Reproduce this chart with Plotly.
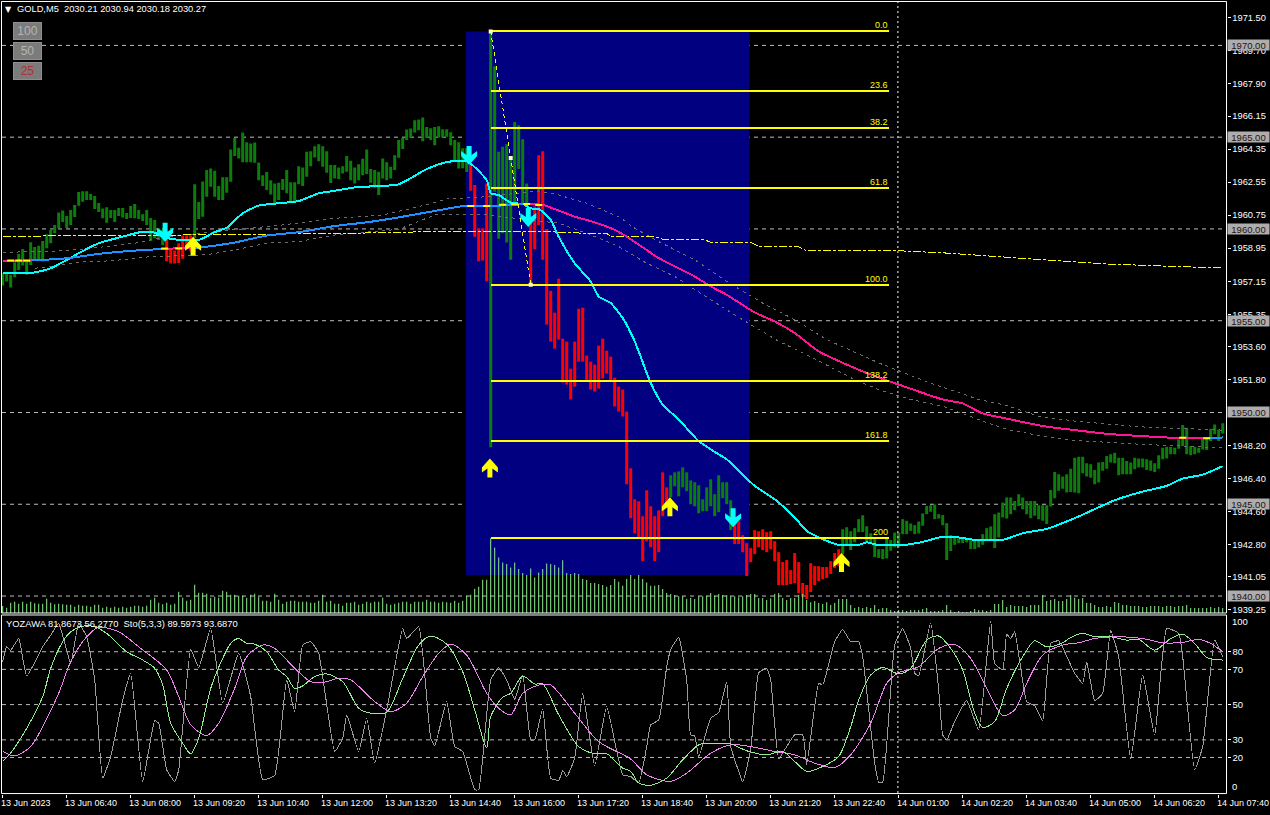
import plotly.graph_objects as go

bar_high = [1957.59,1957.59,1957.50,1958.19,1958.64,1958.91,1958.22,1959.27,1959.01,1959.09,1959.35,1959.71,1959.94,1960.22,1960.89,1961.00,1960.71,1961.03,1961.30,1962.01,
1962.05,1962.06,1961.90,1961.79,1961.41,1961.12,1961.18,1961.03,1961.03,1961.14,1961.14,1960.87,1961.25,1961.36,1961.03,1960.80,1961.03,1960.60,1960.49,1960.04,
1959.94,1959.58,1958.86,1958.82,1959.22,1959.64,1959.64,1959.64,1962.44,1961.47,1962.59,1963.21,1963.30,1963.17,1962.34,1962.81,1962.81,1964.33,1964.96,1964.42,
1965.25,1964.73,1964.65,1964.71,1963.62,1962.93,1963.10,1962.66,1962.48,1962.52,1962.72,1963.21,1962.55,1962.55,1963.42,1963.35,1964.20,1964.24,1964.51,1964.62,
1964.51,1964.24,1963.48,1963.48,1963.35,1963.42,1963.97,1963.71,1963.35,1963.53,1963.82,1964.33,1963.26,1963.21,1963.12,1963.84,1963.64,1963.39,1964.02,1964.84,
1964.96,1965.42,1965.47,1965.92,1965.96,1966.07,1965.56,1965.49,1965.56,1965.60,1965.43,1965.43,1965.27,1964.84,1964.73,1964.40,1964.40,1963.48,1962.39,1960.04,
1960.04,1962.48,1970.82,1968.86,1964.20,1964.48,1964.62,1963.93,1965.83,1965.65,1964.89,1962.48,1960.49,1961.22,1964.02,1964.24,1960.00,1956.63,1955.44,1957.29,
1954.02,1953.86,1952.39,1953.86,1955.65,1955.71,1953.10,1952.77,1952.61,1953.64,1954.02,1953.37,1953.04,1951.90,1951.41,1951.25,1950.05,1946.96,1945.27,1945.16,
1944.35,1945.76,1944.89,1944.35,1944.67,1946.74,1945.92,1946.58,1946.74,1946.79,1947.01,1946.74,1946.30,1946.20,1946.03,1945.27,1945.92,1946.36,1945.55,1946.58,
1946.20,1946.20,1945.22,1944.02,1944.08,1943.32,1942.88,1942.61,1943.59,1943.53,1943.64,1943.48,1943.53,1942.99,1942.39,1941.85,1941.96,1941.41,1942.34,1941.85,
1940.71,1940.60,1941.79,1941.63,1941.63,1941.58,1941.58,1941.90,1942.34,1942.55,1943.64,1943.75,1943.53,1943.70,1944.19,1944.40,1943.80,1943.42,1943.10,1942.55,
1942.56,1943.14,1943.05,1943.46,1943.46,1944.19,1944.10,1943.95,1943.86,1944.06,1944.50,1944.91,1944.95,1944.99,1944.46,1944.41,1943.97,1943.32,1943.19,1943.14,
1943.10,1943.14,1943.10,1943.07,1943.10,1943.37,1943.70,1943.79,1944.46,1944.55,1945.09,1945.37,1945.37,1945.18,1945.55,1945.37,1945.18,1945.18,1945.18,1944.95,
1944.95,1944.95,1945.78,1946.76,1946.63,1946.51,1946.63,1946.94,1947.54,1947.59,1947.59,1947.23,1947.18,1946.87,1947.27,1947.30,1947.63,1947.72,1947.81,1947.54,
1947.54,1947.36,1947.27,1947.54,1947.49,1947.49,1947.45,1947.39,1947.23,1947.67,1948.08,1948.14,1948.12,1948.08,1948.54,1949.32,1949.17,1948.17,1948.14,1948.08,
1948.57,1948.63,1949.12,1949.35,1949.08,1949.41]

bar_low = [1956.92,1957.14,1956.81,1957.37,1957.77,1958.01,1957.50,1958.04,1958.28,1958.31,1958.22,1958.95,1959.22,1959.76,1960.05,1960.38,1960.05,1960.22,1960.65,1961.27,
1961.48,1961.58,1961.58,1961.09,1960.92,1960.58,1960.34,1960.60,1960.38,1960.71,1960.63,1960.54,1960.60,1960.58,1960.54,1960.43,1960.22,1959.35,1959.49,1959.40,
1959.13,1958.24,1958.12,1958.12,1958.15,1958.37,1958.95,1958.77,1959.49,1960.54,1960.67,1961.76,1962.30,1961.76,1961.58,1961.58,1961.97,1962.57,1963.97,1963.84,
1963.64,1963.64,1963.64,1963.60,1962.66,1962.34,1962.12,1961.88,1961.39,1961.58,1962.12,1961.94,1961.48,1961.48,1962.44,1962.34,1962.84,1963.42,1963.89,1963.69,
1963.39,1963.06,1962.50,1962.75,1962.72,1963.02,1963.12,1962.66,1962.48,1962.66,1962.92,1962.99,1962.52,1962.26,1961.85,1962.75,1962.66,1962.75,1963.21,1963.88,
1964.35,1964.84,1964.98,1965.25,1965.38,1964.78,1964.96,1964.84,1964.56,1964.98,1964.98,1965.02,1964.56,1963.71,1963.30,1963.31,1963.10,1962.08,1959.58,1958.23,
1958.28,1957.14,1948.10,1962.03,1959.46,1959.77,1959.26,1958.32,1961.31,1963.26,1961.40,1961.40,1956.96,1958.90,1960.22,1958.32,1954.79,1953.86,1953.48,1953.97,
1951.63,1951.52,1950.71,1951.41,1952.77,1952.77,1951.69,1951.25,1951.14,1951.30,1951.85,1952.12,1951.69,1950.33,1950.05,1949.78,1946.09,1944.24,1943.42,1943.21,
1941.90,1942.99,1942.66,1941.90,1942.39,1944.35,1944.84,1945.38,1945.98,1945.43,1945.92,1945.71,1945.00,1944.89,1944.51,1944.62,1944.62,1944.89,1944.35,1944.57,
1945.33,1945.00,1943.59,1942.83,1942.83,1942.39,1941.09,1941.85,1942.28,1942.66,1942.50,1942.39,1942.55,1941.90,1940.60,1940.60,1940.60,1940.65,1940.71,1940.16,
1939.95,1939.84,1940.22,1940.60,1940.82,1940.92,1940.98,1941.20,1941.52,1941.63,1942.28,1942.77,1942.50,1942.93,1943.48,1943.48,1942.93,1942.83,1942.12,1942.07,
1942.01,1942.05,1942.47,1942.65,1942.65,1943.37,1943.37,1943.55,1943.37,1943.41,1943.83,1944.46,1944.59,1944.19,1944.22,1943.86,1941.96,1942.45,1942.79,1942.88,
1942.88,1942.92,1942.56,1942.56,1942.65,1942.79,1943.01,1943.10,1942.61,1943.19,1944.28,1944.22,1944.46,1944.68,1944.91,1944.73,1944.46,1944.24,1944.37,1944.19,
1944.10,1943.92,1944.88,1945.33,1945.73,1945.85,1945.64,1945.67,1945.64,1945.60,1946.69,1946.51,1946.45,1946.09,1946.18,1946.82,1946.94,1947.27,1947.23,1946.58,
1946.63,1946.63,1946.63,1946.91,1947.00,1947.00,1946.87,1946.82,1946.76,1946.94,1947.45,1947.49,1947.72,1947.72,1948.03,1948.17,1947.72,1947.67,1947.72,1947.81,
1947.99,1947.96,1948.45,1948.81,1948.45,1948.86]

falling_spans = [(41, 47), (117, 121), (132, 166), (183, 209)]

tick_volume = [21,16,31,34,28,34,28,34,29,28,28,43,31,26,28,26,25,25,19,25,22,22,19,25,25,16,19,16,19,16,19,16,19,22,22,19,22,40,46,31,
26,31,25,28,64,46,37,40,85,61,61,58,46,49,46,67,64,55,55,52,52,46,55,58,49,37,37,34,58,40,28,34,37,37,34,34,34,31,31,37,
55,34,37,28,28,22,31,31,34,25,28,34,31,34,34,46,28,25,28,31,34,34,28,34,34,34,40,34,34,31,34,32,31,37,31,37,52,55,73,79,
100,100,225,197,167,152,147,137,152,132,120,114,134,107,122,132,149,147,144,137,159,120,117,120,117,102,99,90,90,87,84,79,84,102,94,82,
102,114,102,114,102,92,82,82,84,72,60,57,54,50,50,42,45,42,50,50,52,60,52,57,54,54,50,50,47,50,54,57,57,45,45,39,44,57,60,45,
39,45,45,54,57,39,32,36,30,27,32,24,30,42,42,42,24,15,18,15,18,15,24,12,15,15,9,6,9,9,6,9,9,9,12,15,6,6,6,9,
24,9,3,6,3,3,6,12,9,9,6,9,27,27,39,18,24,21,21,21,18,24,24,24,54,36,39,42,36,36,42,54,46,42,45,30,30,24,18,18,
21,18,33,30,24,24,21,21,21,18,18,21,21,21,18,21,21,18,21,21,24,15,15,15,15,15,18,15,18,15]

cyan_idx = [0,8,12,16,19,24,30,35,38,40,44,49,53,56,60,64,68,74,79,83,88,94,99,106,111,116,121,122,124,127,130,132,134,137,139,143,147,149,152,155,158,162,165,169,174,179,181,188,193,198,201,205,209,214,216,219,225,230,235,239,243,250,255,261,268,278,285,291,295,300,305]
cyan_val = [1957.59,1957.63,1957.86,1958.31,1958.68,1959.22,1959.58,1959.85,1959.80,1959.58,1959.40,1959.40,1959.82,1960.07,1960.85,1961.27,1961.38,1961.52,1961.94,1962.08,1962.26,1962.34,1962.43,1963.26,1963.64,1963.70,1962.66,1961.94,1961.85,1961.43,1961.36,1961.12,1961.09,1960.49,1959.58,1958.13,1957.14,1956.32,1955.96,1955.15,1953.88,1951.61,1950.43,1949.62,1948.44,1947.72,1947.45,1946.00,1945.27,1944.28,1943.55,1943.10,1942.79,1942.79,1942.92,1942.77,1942.77,1942.95,1943.23,1943.19,1943.06,1943.06,1943.42,1943.66,1944.24,1945.22,1945.69,1946.00,1946.40,1946.61,1947.08]

ma_idx = [0,7,16,24,33,40,41,48,53,58,66,74,83,91,99,108,116,122,131,135,139,143,148,153,156,160,164,169,173,177,181,188,193,198,204,211,217,235,240,245,252,260,268,276,285,293,301,305]
ma_val = [1958.28,1958.28,1958.40,1958.64,1958.82,1958.91,1958.93,1958.95,1959.09,1959.26,1959.64,1959.82,1960.16,1960.36,1960.63,1960.98,1961.27,1961.25,1961.36,1961.31,1961.00,1960.67,1960.36,1959.95,1959.58,1959.00,1958.41,1957.86,1957.41,1956.87,1956.41,1955.45,1954.96,1954.33,1953.33,1952.61,1952.07,1950.71,1950.49,1949.95,1949.62,1949.26,1949.04,1948.84,1948.71,1948.62,1948.59,1948.64]
ma_pink_spans = [(0, 7), (41, 48), (131, 301)]
ma_mark_idx = [2,4,6,40.5,44,117,121,125,128,131,134,295,301]
ma_mark_val = [1958.28,1958.28,1958.28,1958.93,1958.94,1961.25,1961.25,1961.32,1961.34,1961.36,1961.31,1948.62,1948.59]

band_up_idx = [0,11,20,33,41,58,70,83,95,104,111,119,134,139,146,154,158,164,173,181,190,198,206,219,232,244,251,259,268,284,305]
band_up_val = [1958.73,1958.77,1958.89,1959.22,1959.58,1959.94,1960.22,1960.58,1960.76,1961.21,1961.63,1961.72,1962.07,1961.85,1961.40,1960.67,1960.04,1959.31,1958.32,1957.14,1955.96,1955.05,1953.97,1952.70,1951.60,1950.71,1950.38,1949.80,1949.53,1949.22,1949.04]
band_lo_idx = [8,12,20,27,37,51,58,66,74,83,99,108,119,131,139,146,154,161,168,177,185,194,201,213,219,227,235,245,251,260,268,285,305]
band_lo_val = [1957.86,1957.95,1958.22,1958.26,1958.49,1958.59,1958.86,1959.22,1959.31,1959.67,1959.98,1960.76,1960.81,1960.49,1960.31,1959.77,1959.04,1958.13,1957.41,1956.14,1955.05,1953.88,1953.15,1951.79,1951.25,1950.71,1950.34,1949.53,1949.08,1948.71,1948.48,1948.26,1948.08]

yellow_idx = [0,8,25,58,75,91,104,120,134,145,151,152,163,165,175,177,187,189,199,201,225,235,259,275,295,305]
yellow_val = [1959.60,1959.60,1959.64,1959.69,1959.73,1959.78,1959.84,1959.87,1959.87,1959.77,1959.77,1959.58,1959.58,1959.44,1959.44,1959.28,1959.28,1959.04,1959.02,1958.80,1958.80,1958.70,1958.32,1958.10,1957.94,1957.88]

zigzag_idx = [122, 127, 132]
zigzag_val = [1970.76, 1963.86, 1956.96]

fib_labels = ["0.0", "23.6", "38.2", "61.8", "100.0", "138.2", "161.8", "200"]
fib_levels = [1970.76, 1967.50, 1965.49, 1962.23, 1956.96, 1951.69, 1948.43, 1943.16]
fib_start = 122
fib_end = 221.6

zone_start, zone_end = 115.8, 186.7
zone_top, zone_bottom = 1970.76, 1941.14

arrow_up_idx = [47.6, 121.8, 166.8, 209.7]
arrow_up_val = [1959.57, 1947.50, 1945.38, 1942.34]
arrow_dn_idx = [40.6, 116.6, 131.4, 182.6]
arrow_dn_val = [1959.30, 1963.48, 1960.11, 1943.75]

round_levels = [1970, 1965, 1960, 1955, 1950, 1945, 1940]
price_ticks = [1971.50,1969.70,1967.90,1966.15,1964.35,1962.55,1960.75,1958.95,1957.15,1955.35,1953.60,1951.80,1950.00,1948.20,1946.40,1944.60,1942.80,1941.05,1939.25]
osc_levels = [80, 70, 50, 30, 20]

osc_idx = [0,1,2,4,6,10,12,14,17,19,21,23,25,27,30,32,35,38,39,41,43,44,47,49,52,55,59,62,65,68,71,73,75,77,79,83,85,86,89,91,93,96,100,101,104,107,108,111,113,115,118,119,122,124,126,128,130,132,133,135,137,139,140,141,143,145,148,151,155,157,159,161,162,164,166,167,169,171,172,173,174,177,179,181,182,184,185,187,189,191,192,194,196,198,200,201,204,205,208,210,212,214,215,218,219,220,223,225,227,228,229,232,234,235,236,238,241,244,247,248,250,251,252,253,256,258,260,262,264,268,270,271,273,275,277,279,282,285,288,291,294,295,298,300,301,303,305]
osc_val = [74.3,82.8,80.9,87.5,66.2,82.8,89.4,96.0,73.4,96.0,88.5,64.0,8.3,20.6,52.6,67.7,6.4,40.9,39.4,13.0,6.4,13.0,81.3,71.1,93.2,50.8,79.1,54.5,7.4,9.8,64.0,46.0,83.8,85.7,79.1,23.4,30.9,44.2,23.4,42.3,16.8,47.0,93.2,87.5,94.2,30.9,26.6,51.7,26.2,23.4,1.7,1.7,64.0,70.9,64.0,53.0,66.8,30.0,30.0,47.5,8.3,7.0,12.6,9.2,19.6,56.4,15.3,48.9,10.2,9.2,5.5,26.2,38.5,41.3,71.5,81.3,88.1,64.0,32.8,32.3,20.2,42.3,45.5,63.0,26.2,12.1,6.0,24.3,68.1,70.6,64.0,19.2,26.2,32.8,32.8,15.9,62.1,61.1,85.7,92.6,85.7,85.7,77.2,16.8,6.0,6.0,83.8,93.2,81.9,67.7,66.4,96.4,58.3,32.8,30.0,40.4,52.3,35.7,97.5,73.4,69.6,90.0,87.5,91.3,51.7,49.4,40.9,84.7,86.2,67.7,62.1,74.3,52.3,56.4,91.9,77.2,19.2,66.8,32.8,93.2,90.4,77.2,13.0,26.2,47.0,86.6,77.2]

sto_main_idx = [0,2,6,10,12,15,17,20,23,26,31,35,38,40,42,45,47,49,52,55,57,59,61,63,66,69,71,73,75,78,81,85,89,92,96,100,104,107,111,115,118,121,122,125,127,130,133,135,139,144,148,151,155,157,159,162,166,170,174,176,179,182,186,191,195,198,201,205,209,212,214,217,220,224,227,231,234,237,240,243,245,248,251,255,258,261,265,267,270,273,277,281,284,288,292,295,298,301,305]
sto_main_val = [17.7,22.5,36.6,54.5,70.6,85.7,91.3,94.5,94.2,90.4,80.0,75.3,70.6,61.1,39.4,28.1,22.1,30.9,59.2,76.2,84.7,87.5,84.7,84.3,80.0,69.6,65.9,59.2,60.6,65.9,67.4,63.0,47.9,45.1,45.7,64.9,83.8,88.9,84.3,68.7,47.0,25.3,43.2,54.2,56.4,66.2,61.7,61.7,44.2,26.2,22.1,22.1,14.0,12.1,5.5,4.2,8.3,18.7,27.2,28.1,27.7,27.7,23.8,21.5,23.4,17.7,12.1,14.9,20.6,37.5,52.6,66.8,71.1,67.4,70.6,86.6,88.9,81.9,69.6,45.1,37.0,40.4,59.2,77.2,86.2,82.8,85.1,88.1,90.4,88.5,88.5,86.6,87.0,80.9,87.5,90.0,84.7,76.8,75.3]

sto_sig_idx = [0,3,7,10,14,17,21,24,29,34,41,44,47,51,54,58,61,65,68,73,77,80,84,87,93,97,101,105,109,112,116,121,124,127,130,134,137,143,149,157,161,167,171,177,182,187,193,198,203,208,212,217,221,224,229,234,238,242,246,250,253,256,260,265,269,273,279,285,290,295,299,302,305]
sto_sig_val = [23.4,20.9,26.2,37.5,56.4,74.3,88.5,93.8,91.3,82.8,69.6,54.5,38.5,32.5,39.4,59.2,77.2,83.8,81.9,70.6,63.0,62.5,64.9,64.0,51.7,46.0,50.8,65.9,79.1,84.3,78.1,56.4,47.9,44.2,56.4,61.1,61.1,45.1,29.0,19.1,10.2,6.4,11.1,22.4,27.2,26.2,23.4,21.5,16.8,14.3,21.5,39.4,62.1,68.1,71.5,81.9,84.2,76.2,59.2,43.8,47.0,62.1,78.1,83.8,85.1,87.5,88.5,87.5,85.1,85.3,87.0,84.7,80.0]

time_idx = list(range(0, 305, 16))
time_labels = ["13 Jun 2023","13 Jun 06:40","13 Jun 08:00","13 Jun 09:20","13 Jun 10:40","13 Jun 12:00","13 Jun 13:20","13 Jun 14:40","13 Jun 16:00","13 Jun 17:20",
               "13 Jun 18:40","13 Jun 20:00","13 Jun 21:20","13 Jun 22:40","14 Jun 01:00","14 Jun 02:20","14 Jun 03:40","14 Jun 05:00","14 Jun 06:20","14 Jun 07:40"]
crosshair_idx = 223.8

header_text = "GOLD,M5  2030.21 2030.94 2030.18 2030.27"
osc_text = "YOZAWA 81.8673 56.2770  Sto(5,3,3) 89.5973 93.6870"
button_labels = ["100", "50", "25"]

W, H = 1270, 815
FONT = "Liberation Sans"
TXT = "#ffffff"
GRID = "#bdbdbd"
GRID_DASH = "4px,4px"
xp = lambda px: px / W
yp = lambda py: 1 - py / H

bar_idx = list(range(len(bar_high)))
is_red = lambda i: any(a <= i <= b for a, b in falling_spans)
bar_colors = ["#ff0000" if is_red(i) else "#0b7d0b" for i in bar_idx]
span = [h - l for h, l in zip(bar_high, bar_low)]

fig = go.Figure()
fig.add_bar(x=bar_idx, y=span, base=bar_low, width=0.75, marker=dict(color=bar_colors, line_width=0), yaxis="y")
fig.add_scatter(x=band_up_idx, y=band_up_val, mode="lines", line=dict(color="#6e6e6e", width=1, dash="3px,4px"), yaxis="y")
fig.add_scatter(x=band_lo_idx, y=band_lo_val, mode="lines", line=dict(color="#6e6e6e", width=1, dash="3px,4px"), yaxis="y")
fig.add_scatter(x=yellow_idx, y=yellow_val, mode="lines", line=dict(color="#ffff00", width=1, dash="8px,2px,3px,2px"), yaxis="y")
fig.add_scatter(x=cyan_idx, y=cyan_val, mode="lines", line=dict(color="#00ffff", width=2, shape="spline", smoothing=0.6), yaxis="y")

last = len(ma_idx) - 1
breaks = sorted({0, last} | {ma_idx.index(v) for s in ma_pink_spans for v in s})
for a, b in zip(breaks, breaks[1:]):
    pink = any(s0 <= ma_idx[a] and ma_idx[b] <= s1 for s0, s1 in ma_pink_spans)
    fig.add_scatter(x=ma_idx[a:b + 1], y=ma_val[a:b + 1], mode="lines",
                    line=dict(color="#ff1493" if pink else "#1e90ff", width=2, shape="spline", smoothing=0.6), yaxis="y")
fig.add_scatter(x=ma_mark_idx, y=ma_mark_val, mode="markers",
                marker=dict(symbol="line-ew", size=5, line=dict(color="#ffff00", width=2)), yaxis="y")

for lvl in fib_levels:
    fig.add_scatter(x=[fib_start, fib_end], y=[lvl, lvl], mode="lines", line=dict(color="#ffff00", width=2), yaxis="y")
fig.add_scatter(x=zigzag_idx, y=zigzag_val, mode="lines+markers", line=dict(color="#ffff00", width=1, dash="4px,3px"),
                marker=dict(symbol="square", size=4, color="#ffffc0"), yaxis="y")

fig.add_bar(x=bar_idx, y=tick_volume, width=0.25, marker=dict(color="#90ee90", line_width=0), yaxis="y3")

fig.add_scatter(x=osc_idx, y=osc_val, mode="lines", line=dict(color="#9c9c9c", width=1, shape="spline", smoothing=0.4), yaxis="y2")
fig.add_scatter(x=sto_sig_idx, y=sto_sig_val, mode="lines", line=dict(color="#ee82ee", width=1, shape="spline", smoothing=0.8), yaxis="y2")
fig.add_scatter(x=sto_main_idx, y=sto_main_val, mode="lines", line=dict(color="#90ee90", width=1, shape="spline", smoothing=0.8), yaxis="y2")

shapes = [dict(type="rect", xref="x", yref="y", x0=zone_start, x1=zone_end, y0=zone_bottom, y1=zone_top,
               fillcolor="#000080", line_width=0, layer="below")]
for lvl in round_levels:
    shapes.append(dict(type="line", xref="paper", yref="y", x0=xp(2), x1=xp(1226), y0=lvl, y1=lvl,
                       line=dict(color=GRID, width=1, dash=GRID_DASH), layer="below"))
for lvl in osc_levels:
    shapes.append(dict(type="line", xref="paper", yref="y2", x0=xp(2), x1=xp(1226), y0=lvl, y1=lvl,
                       line=dict(color=GRID, width=1, dash=GRID_DASH), layer="below"))
shapes.append(dict(type="line", xref="x", yref="paper", x0=crosshair_idx, x1=crosshair_idx, y0=yp(795), y1=yp(0),
                   line=dict(color="#ffffff", width=1, dash="2px,3px"), layer="above"))
for top, bot in [(1.5, 614.5), (616.5, 795.5)]:
    shapes.append(dict(type="rect", xref="paper", yref="paper", x0=xp(1.5), x1=xp(1226.5), y0=yp(bot), y1=yp(top),
                       line=dict(color="#ffffff", width=1), fillcolor="rgba(0,0,0,0)", layer="above"))

ARROW_UP = "M0,0 L8,-9 L8,-14 L2.5,-10 L2.5,-19 L-2.5,-19 L-2.5,-10 L-8,-14 L-8,-9 Z"
ARROW_DN = "M0,0 L8,9 L8,14 L2.5,10 L2.5,19 L-2.5,19 L-2.5,10 L-8,14 L-8,9 Z"
for xs, ys, path, col in [(arrow_up_idx, arrow_up_val, ARROW_UP, "#ffff00"), (arrow_dn_idx, arrow_dn_val, ARROW_DN, "#00ffff")]:
    for x, y in zip(xs, ys):
        shapes.append(dict(type="path", xref="x", yref="y", xsizemode="pixel", ysizemode="pixel", xanchor=x, yanchor=y,
                           path=path, fillcolor=col, line_width=0, layer="above"))

ann = []
for lab, lvl in zip(fib_labels, fib_levels):
    ann.append(dict(text=lab, x=fib_end, y=lvl, xref="x", yref="y", xanchor="right", yanchor="bottom", showarrow=False,
                    font=dict(family=FONT, size=9, color="#ffff00"), borderpad=0))
for lvl in round_levels:
    ann.append(dict(text=f"{lvl:.2f}", x=xp(1248.5), y=lvl, xref="paper", yref="y", xanchor="center", yanchor="middle", showarrow=False,
                    width=41, height=10, bgcolor="#adadad", font=dict(family=FONT, size=9.5, color="#2a1010"), borderpad=0))
for i, t in zip(time_idx, time_labels):
    ann.append(dict(text=t, x=i, y=yp(804.5), xref="x", yref="paper", xanchor="left", yanchor="middle", xshift=-3.5,
                    showarrow=False, font=dict(family=FONT, size=9, color=TXT)))

ann.append(dict(text=header_text, x=xp(17), y=yp(9), xref="paper", yref="paper", xanchor="left", yanchor="middle", xshift=-2, showarrow=False,
                font=dict(family=FONT, size=9.3, color=TXT)))
ann.append(dict(text="\u25bc", x=xp(8.5), y=yp(9.5), xref="paper", yref="paper", xanchor="center", yanchor="middle", showarrow=False,
                font=dict(family="DejaVu Sans", size=8, color="#ffffff")))
ann.append(dict(text=osc_text, x=xp(6), y=yp(625), xref="paper", yref="paper", xanchor="left", yanchor="middle", xshift=-2, showarrow=False,
                font=dict(family=FONT, size=9.4, color=TXT)))
for lab, py, c in zip(button_labels, [31.5, 51, 71], ["#b5b5b5", "#b5b5b5", "#b03030"]):
    ann.append(dict(text=lab, x=xp(27), y=yp(py), xref="paper", yref="paper", xanchor="center", yanchor="middle", showarrow=False, width=27, height=16,
                    bgcolor="#7b7b7b", bordercolor="#8f8f8f", borderwidth=1, borderpad=0, font=dict(family=FONT, size=12, color=c)))
for lab, py in [("100", 623), ("0", 788.5)]:
    ann.append(dict(text=lab, x=xp(1230), y=yp(py), xref="paper", yref="paper", xanchor="left", yanchor="middle", showarrow=False,
                    font=dict(family=FONT, size=9.5, color=TXT)))

x_dom = [xp(1.5), xp(1226.5)]
x_rng = [(1.5 - 2.7) / 4, (1226.5 - 2.7) / 4]
fig.update_layout(
    width=W, height=H, margin=dict(l=0, r=0, t=0, b=0), autosize=False, showlegend=False, barmode="overlay",
    paper_bgcolor="#000000", plot_bgcolor="#000000", shapes=shapes, annotations=ann, hovermode=False,
    xaxis=dict(domain=x_dom, range=x_rng, anchor="y2", showgrid=False, zeroline=False, showticklabels=False,
               ticks="outside", ticklen=3, tickcolor="#ffffff", tickvals=time_idx),
    yaxis=dict(domain=[yp(614.5), yp(1.5)], range=[1939.076, 1972.392], side="right", anchor="x", showgrid=False, zeroline=False,
               tickvals=price_ticks, ticktext=[f"{v:.2f}" for v in price_ticks], ticks="outside", ticklen=3, tickcolor="#ffffff",
               tickfont=dict(family=FONT, size=9.3, color=TXT)),
    yaxis3=dict(domain=[yp(614.5), yp(1.5)], range=[0, 1839], overlaying="y", side="right", anchor="x", showgrid=False, zeroline=False, showticklabels=False, ticks=""),
    yaxis2=dict(domain=[yp(795.5), yp(616.5)], range=[-0.47, 100.85], side="right", anchor="x", showgrid=False, zeroline=False,
                tickvals=osc_levels, ticks="outside", ticklen=3, tickcolor="#ffffff",
                tickfont=dict(family=FONT, size=9.5, color=TXT)),
)
fig.write_html("out.html", config={"displayModeBar": False, "staticPlot": True},
               post_script="document.body.style.margin='0';document.body.style.background='#000';document.documentElement.style.overflow='hidden';"
                           "var s=document.createElement('style');s.textContent='.js-line{shape-rendering:crispEdges}';document.head.appendChild(s);")
